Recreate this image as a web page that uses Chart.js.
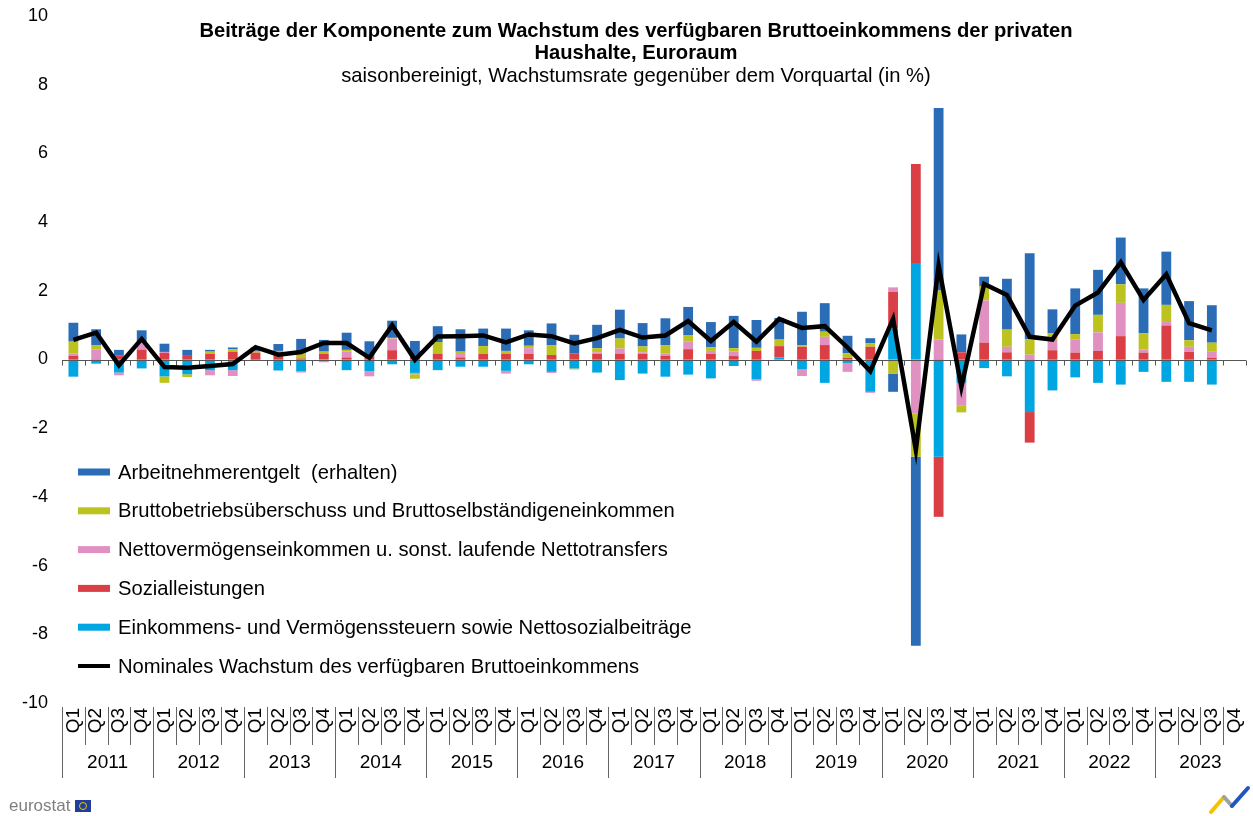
<!DOCTYPE html>
<html>
<head>
<meta charset="utf-8">
<script src="https://cdn.jsdelivr.net/npm/chart.js@4/dist/chart.umd.min.js"></script>
<style>
  body { margin: 0; background: #fff; }
  #wrap { position: relative; width: 1253px; height: 816px; }
</style>
</head>
<body>
<div id="wrap"><canvas id="myChart"></canvas></div>
<script>
// Beitraege zum Wachstum des verfuegbaren Bruttoeinkommens, Euroraum

const years = ['2011', '2012', '2013', '2014', '2015', '2016', '2017', '2018', '2019', '2020', '2021', '2022', '2023'];
const quarters = ['Q1', 'Q2', 'Q3', 'Q4'];

const compensation = [0.55, 0.46, 0.17, 0.35, 0.24, 0.15, 0.05, 0.05, 0.10, 0.20, 0.42, 0.34,
    0.50, 0.43, 0.50, 0.49, 0.46, 0.65, 0.51, 0.65, 0.45, 0.63, 0.55, 0.68,
    0.84, 0.68, 0.78, 0.83, 0.73, 0.94, 0.81, 0.63, 0.97, 0.83, 0.51, 0.15,
    -0.53, -5.50, 5.31, 0.52, 0.27, 1.48, 2.50, 0.70, 1.33, 1.31, 1.36, 1.31,
    1.55, 1.14, 1.09, null];
const surplus = [0.34, 0.13, 0, 0.02, -0.19, -0.08, 0.07, 0.08, 0.05, 0.05, 0.15, 0.07,
    0.05, 0, 0.02, -0.13, 0.34, 0.07, 0.23, 0.08, 0.07, 0.29, -0.03, 0.12,
    0.29, 0.17, 0.24, 0.17, 0.11, 0.10, 0.09, 0.19, 0.05, 0.15, 0.13, 0.10,
    -0.41, -1.25, 1.43, -0.21, 0.42, 0.50, 0.45, 0.19, 0.15, 0.51, 0.54, 0.47,
    0.50, 0.19, 0.25, null];
const property = [0.07, 0.29, -0.08, 0.19, 0.03, 0, -0.15, -0.17, 0, 0, -0.04, -0.08,
    0.17, -0.15, 0.34, -0.04, 0, 0.10, 0, -0.08, 0.17, -0.03, 0, 0.05,
    0.15, 0.05, 0.07, 0.23, 0.09, 0.13, -0.05, -0.04, -0.19, 0.24, -0.26, -0.03,
    0.13, -1.58, 0.58, -0.65, 1.23, 0.16, 0.14, 0.30, 0.39, 0.54, 0.97, 0.09,
    0.10, 0.15, 0.19, null];
const social = [0.11, 0, 0.11, 0.29, 0.19, 0.13, 0.16, 0.22, 0.20, 0.20, 0.03, 0.16,
    0.06, 0.10, 0.27, 0.05, 0.17, 0.06, 0.16, 0.17, 0.16, 0.13, 0.17, 0.16,
    0.17, 0.16, 0.11, 0.30, 0.16, 0.10, 0.25, 0.33, 0.37, 0.42, 0.05, 0.37,
    1.07, 2.88, -1.75, 0.21, 0.49, 0.21, -0.89, 0.27, 0.20, 0.25, 0.68, 0.20,
    0.99, 0.22, 0.05, null];
const taxes = [-0.50, -0.12, -0.38, -0.26, -0.49, -0.43, -0.31, -0.31, -0.03, -0.32, -0.34, 0,
    -0.31, -0.34, -0.14, -0.39, -0.31, -0.21, -0.21, -0.33, -0.14, -0.36, -0.26, -0.38,
    -0.60, -0.41, -0.50, -0.44, -0.55, -0.19, -0.57, 0.06, -0.29, -0.68, -0.10, -0.94,
    0.90, 2.81, -2.83, -0.68, -0.25, -0.49, -1.53, -0.90, -0.52, -0.68, -0.73, -0.36,
    -0.65, -0.65, -0.73, null];
const growth = [0.57, 0.78, -0.17, 0.60, -0.22, -0.24, -0.19, -0.13, 0.36, 0.14, 0.22, 0.48,
    0.48, 0.05, 1.00, -0.01, 0.67, 0.68, 0.70, 0.50, 0.73, 0.68, 0.47, 0.62,
    0.86, 0.64, 0.70, 1.12, 0.54, 1.09, 0.52, 1.18, 0.92, 0.97, 0.35, -0.34,
    1.18, -2.63, 2.74, -0.80, 2.20, 1.88, 0.66, 0.58, 1.57, 1.95, 2.83, 1.73,
    2.48, 1.06, 0.85, null];

const seriesNames = [
    'Arbeitnehmerentgelt  (erhalten)',
    'Bruttobetriebsüberschuss und Bruttoselbständigeneinkommen',
    'Nettovermögenseinkommen u. sonst. laufende Nettotransfers',
    'Sozialleistungen',
    'Einkommens- und Vermögenssteuern sowie Nettosozialbeiträge',
    'Nominales Wachstum des verfügbaren Bruttoeinkommens'
];
const colors = ['#2a6cb6', '#bcc21e', '#e091c2', '#d93f45', '#00a6e2', '#000000'];

const titleLines = [
    'Beiträge der Komponente zum Wachstum des verfügbaren Bruttoeinkommens der privaten',
    'Haushalte, Euroraum'
];
const subtitle = 'saisonbereinigt, Wachstumsrate gegenüber dem Vorquartal (in %)';

const labels = years.flatMap(y => quarters.map(q => y + ' ' + q));
const FONT = "'Liberation Sans', Arial, sans-serif";

function bar(i, data) {
    return {
        type: 'bar',
        label: seriesNames[i],
        data: data,
        backgroundColor: colors[i],
        borderWidth: 0,
        barPercentage: 0.43,
        categoryPercentage: 1,
        order: 1,
        yAxisID: 'y'
    };
}

// draws title, zero axis, year labels and legend
const decorations = {
    id: 'decorations',
    beforeDatasetDraw(chart, args) {
        if (args.index !== 5) return;
        const ctx = chart.ctx;
        const x = chart.scales.x, y = chart.scales.y;
        const y0 = Math.round(y.getPixelForValue(0)) + 0.5;
        const step = x.getPixelForValue(1) - x.getPixelForValue(0);
        ctx.save();
        ctx.strokeStyle = '#555';
        ctx.lineWidth = 1;
        ctx.beginPath();
        ctx.moveTo(chart.chartArea.left, y0);
        ctx.lineTo(chart.chartArea.right, y0);
        for (let k = 0; k <= labels.length; k++) {
            const px = Math.round(x.getPixelForValue(k) - step / 2) + 0.5;
            ctx.moveTo(px, y0);
            ctx.lineTo(px, y0 + 5);
        }
        ctx.stroke();
        ctx.restore();
    },
    afterDraw(chart) {
        const ctx = chart.ctx;
        const x = chart.scales.x;
        const area = chart.chartArea;
        const step = x.getPixelForValue(1) - x.getPixelForValue(0);
        ctx.save();

        // category separators and years
        ctx.strokeStyle = '#666';
        ctx.lineWidth = 1;
        ctx.beginPath();
        for (let k = 0; k < labels.length; k++) {
            const px = Math.round(x.getPixelForValue(k) - step / 2) + 0.5;
            ctx.moveTo(px, area.bottom + 4);
            ctx.lineTo(px, k % 4 === 0 ? 778 : 745);
        }
        ctx.stroke();
        ctx.fillStyle = '#000';
        ctx.font = '19px ' + FONT;
        ctx.textAlign = 'center';
        ctx.textBaseline = 'middle';
        years.forEach((yr, i) => {
            const cx = (x.getPixelForValue(i * 4 + 1) + x.getPixelForValue(i * 4 + 2)) / 2;
            ctx.fillText(yr, cx, 763);
        });

        // title
        ctx.font = 'bold 20.2px ' + FONT;
        ctx.fillText(titleLines[0], 636, 31);
        ctx.fillText(titleLines[1], 636, 53);
        ctx.font = '20.2px ' + FONT;
        ctx.fillText(subtitle, 636, 76);

        // legend
        ctx.textAlign = 'left';
        ctx.font = '20.2px ' + FONT;
        seriesNames.forEach((name, i) => {
            const ly = 472 + i * 38.8;
            if (i === 5) {
                ctx.strokeStyle = colors[i];
                ctx.lineWidth = 4;
                ctx.beginPath();
                ctx.moveTo(78, ly);
                ctx.lineTo(110, ly);
                ctx.stroke();
            } else {
                ctx.fillStyle = colors[i];
                ctx.fillRect(78, ly - 3.5, 32, 7);
            }
            ctx.fillStyle = '#000';
            ctx.fillText(name, 118, ly + 1);
        });

        // eurostat mark
        ctx.fillStyle = '#7f7f7f';
        ctx.font = '17px ' + FONT;
        ctx.fillText('eurostat', 9, 806);
        ctx.fillStyle = '#1f3f9a';
        ctx.fillRect(75, 800, 16, 12);
        ctx.strokeStyle = '#f2c500';
        ctx.lineWidth = 1;
        ctx.beginPath();
        ctx.arc(83, 806, 3.5, 0, Math.PI * 2);
        ctx.stroke();

        // corner logo
        ctx.lineWidth = 4;
        ctx.lineCap = 'round';
        ctx.strokeStyle = '#f5c200';
        ctx.beginPath(); ctx.moveTo(1211, 812); ctx.lineTo(1224, 797); ctx.stroke();
        ctx.strokeStyle = '#a0a0a0';
        ctx.beginPath(); ctx.moveTo(1224, 797); ctx.lineTo(1232, 806); ctx.stroke();
        ctx.strokeStyle = '#1f56c2';
        ctx.beginPath(); ctx.moveTo(1232, 806); ctx.lineTo(1248, 788); ctx.stroke();
        ctx.restore();
    }
};

window.addEventListener('load', setup);

function setup() {
    const ctx = document.getElementById('myChart').getContext('2d');
    new Chart(ctx, {
        data: {
            labels: labels,
            datasets: [
                bar(4, taxes),
                bar(3, social),
                bar(2, property),
                bar(1, surplus),
                bar(0, compensation),
                {
                    type: 'line',
                    label: seriesNames[5],
                    data: growth,
                    borderColor: '#000',
                    backgroundColor: '#000',
                    borderWidth: 4.5,
                    pointRadius: 0,
                    tension: 0,
                    fill: false,
                    order: 0,
                    yAxisID: 'y2'
                }
            ]
        },
        options: {
            responsive: true,
            maintainAspectRatio: false,
            animation: false,
            layout: { padding: { top: 16, right: 7, bottom: 0, left: 0 } },
            plugins: {
                legend: { display: false },
                tooltip: { enabled: false }
            },
            scales: {
                x: {
                    stacked: true,
                    grid: { display: false, drawTicks: false },
                    border: { display: false },
                    afterFit: s => { s.height = 113; s.paddingLeft = 0; s.paddingRight = 0; },
                    ticks: {
                        autoSkip: false,
                        minRotation: 90,
                        maxRotation: 90,
                        padding: 5,
                        color: '#000',
                        font: { family: FONT, size: 19 },
                        callback: function (v) { return labels[v].split(' ')[1]; }
                    }
                },
                y: {
                    stacked: true,
                    min: -10,
                    max: 10,
                    grid: { display: false, drawTicks: false },
                    border: { display: false },
                    afterFit: s => { s.width = 62; s.paddingTop = 0; s.paddingBottom = 0; },
                    ticks: {
                        stepSize: 2,
                        padding: 14,
                        color: '#000',
                        font: { family: FONT, size: 18 }
                    }
                },
                y2: {
                    display: false,
                    min: -10,
                    max: 10
                }
            }
        },
        plugins: [decorations]
    });
}
</script>
</body>
</html>
